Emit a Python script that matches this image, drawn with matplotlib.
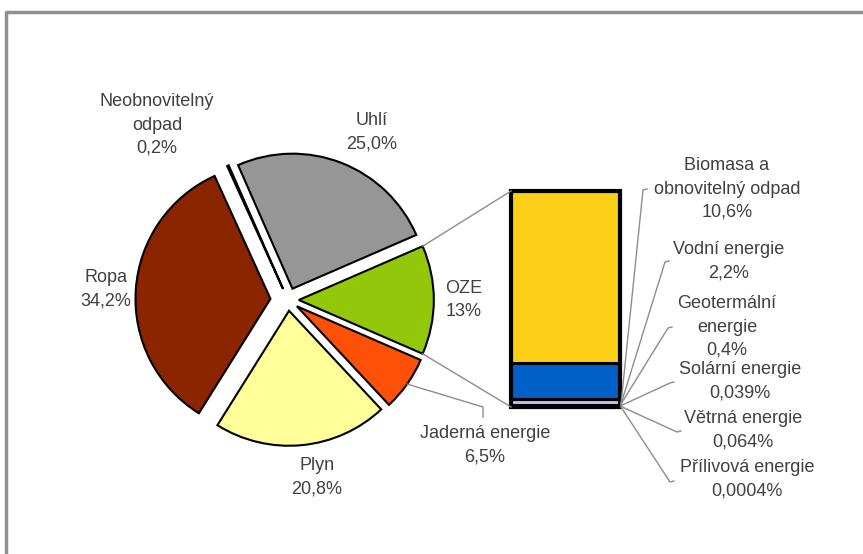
import matplotlib.pyplot as plt
import numpy as np

W, H = 863, 554

# hlavní koláč (po směru hodinových ručiček od horní tenké výseče)
pie_labels = ["Neobnovitelný\nodpad", "Uhlí", "OZE", "Jaderná energie", "Plyn", "Ropa"]
pie_values = [0.2, 25.0, 13.0, 6.5, 20.8, 34.2]
pie_texts = ["0,2%", "25,0%", "13%", "6,5%", "20,8%", "34,2%"]
pie_colors = ["#000000", "#969696", "#92C70A", "#FF5008", "#FFFF99", "#8B2500"]

# rozpad OZE (sloupec vpravo, odshora dolů)
bar_labels = ["Biomasa a\nobnovitelný odpad", "Vodní energie", "Geotermální\nenergie",
              "Solární energie", "Větrná energie", "Přílivová energie"]
bar_values = [10.6, 2.2, 0.4, 0.039, 0.064, 0.0004]
bar_texts = ["10,6%", "2,2%", "0,4%", "0,039%", "0,064%", "0,0004%"]
bar_colors = ["#FDD017", "#0060C8", "#C0C0EC", "#1A1A1A", "#000000", "#000000"]

TXT = "#404040"
LINE = "#8C8C8C"
FS = 13
LS = 1.48
plt.rcParams["font.family"] = ["Liberation Sans", "DejaVu Sans"]


def Y(y):
    # pixely shora -> souřadnice osy zdola
    return H - y


fig = plt.figure(figsize=(W / 100, H / 100), dpi=100)
ax = fig.add_axes([0, 0, 1, 1])

# koláč
cx, cy, r = 288, Y(300), 135
total = sum(pie_values)
oze_i = pie_labels.index("OZE")
start = 360 * (sum(pie_values[:oze_i]) + pie_values[oze_i] / 2) / total
explode = [0.09, 0.09, 0.08, 0.08, 0.08, 0.13]
wedges, _ = ax.pie(pie_values, colors=pie_colors, explode=[e * r for e in explode],
                   startangle=start, counterclock=False, center=(cx, cy), radius=r,
                   frame=True, wedgeprops=dict(edgecolor="black", linewidth=1.5))


def wedge_point(w, ang, rr=None):
    rr = w.r if rr is None else rr
    a = np.deg2rad(ang)
    return w.center[0] + rr * np.cos(a), w.center[1] + rr * np.sin(a)


label_pos = {
    "Neobnovitelný\nodpad": (157, 125),
    "Uhlí": (372, 132),
    "OZE": (464, 300),
    "Jaderná energie": (485, 445),
    "Plyn": (317, 477),
    "Ropa": (106, 289),
}
for lab, txt in zip(pie_labels, pie_texts):
    x, y = label_pos[lab]
    ax.text(x, Y(y), f"{lab}\n{txt}", ha="center", va="center", fontsize=FS,
            color=TXT, linespacing=LS)

# vodítko k jaderné energii
wj = wedges[pie_labels.index("Jaderná energie")]
px, py = wedge_point(wj, (wj.theta1 + wj.theta2) / 2)
ax.plot([px, 483, 483], [py, Y(407), Y(417)], color=LINE, lw=1)

# sloupec OZE
bx0, bx1, btop, bbot = 511, 620, 191, 407
scale = (bbot - btop) / sum(bar_values)
bottom = Y(bbot)
mids = []
for val, col in zip(bar_values[::-1], bar_colors[::-1]):
    h = val * scale
    ax.bar((bx0 + bx1) / 2, h, width=bx1 - bx0, bottom=bottom, color=col,
           edgecolor="black", linewidth=2.2)
    mids.append(bottom + h / 2)
    bottom += h
mids = mids[::-1]
ax.add_patch(plt.Rectangle((bx0, Y(bbot)), bx1 - bx0, bbot - btop, fill=False,
                           edgecolor="black", linewidth=3))

# spojnice koláč -> sloupec
wo = wedges[oze_i]
tx, ty = wedge_point(wo, wo.theta2)
lx, ly = wedge_point(wo, wo.theta1)
ax.plot([tx, bx0], [ty, Y(btop)], color=LINE, lw=1)
ax.plot([lx, bx0], [ly, Y(bbot)], color=LINE, lw=1)

# vodítka a popisky sloupce
ends = [(643, 190), (665, 262), (668, 328), (670, 383), (677, 432), (670, 482)]
text_pos = [(727, 189), (729, 261), (727, 327), (740, 381), (743, 430), (747, 479)]
for lab, txt, m, (ex, ey), (qx, qy) in zip(bar_labels, bar_texts, mids, ends, text_pos):
    m = min(m, Y(bbot) + 3)
    ax.plot([bx1 + 1, ex, ex + 4], [m, Y(ey), Y(ey - 1)], color=LINE, lw=1)
    ax.text(qx, Y(qy), f"{lab}\n{txt}", ha="center", va="center", fontsize=FS,
            color=TXT, linespacing=LS)

# rámeček (jen horní a levá hrana)
ax.plot([6, 6, W], [0, Y(12), Y(12)], color="#909090", lw=2.5, clip_on=False)

ax.set_xlim(0, W)
ax.set_ylim(0, H)
ax.set_aspect("equal")
ax.axis("off")
fig.savefig("out.png", dpi=100)
